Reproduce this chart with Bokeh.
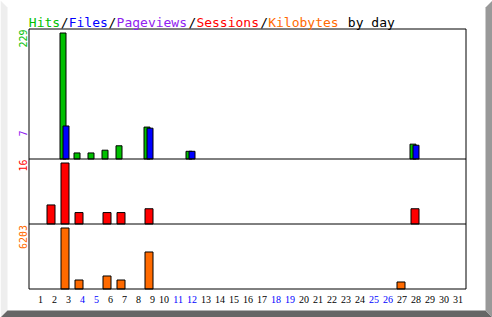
import math
from bokeh.plotting import figure
from bokeh.models import Range1d, Label, LabelSet, ColumnDataSource, PolyAnnotation, BoxAnnotation
from bokeh.embed import file_html
from bokeh.resources import INLINE

# ---------------- data ----------------
days = list(range(1, 32))
hits = [0, 0, 229, 11, 11, 16, 24, 0, 58, 0, 0, 14, 0, 0, 0, 0, 0, 0, 0, 0,
        0, 0, 0, 0, 0, 0, 0, 27, 0, 0, 0]
files = [0, 0, 60, 0, 0, 0, 0, 0, 56, 0, 0, 14, 0, 0, 0, 0, 0, 0, 0, 0,
         0, 0, 0, 0, 0, 0, 0, 25, 0, 0, 0]
sessions = [0, 5, 16, 3, 0, 3, 3, 0, 4, 0, 0, 0, 0, 0, 0, 0, 0, 0, 0, 0,
            0, 0, 0, 0, 0, 0, 0, 4, 0, 0, 0]
kbytes = [0, 0, 6203, 915, 0, 1322, 915, 0, 3763, 0, 0, 0, 0, 0, 0, 0, 0, 0, 0, 0,
          0, 0, 0, 0, 0, 0, 712, 0, 0, 0, 0]
max_pageviews = 7
weekend_days = [4, 5, 11, 12, 18, 19, 25, 26]
title_parts = ["Hits", "/", "Files", "/", "Pageviews", "/", "Sessions", "/", "Kilobytes", " by day"]

# ---------------- style ----------------
GREEN, BLUE, PURPLE, RED, ORANGE = "#00c000", "#0000ff", "#9020f0", "#ff0000", "#ff6a00"
title_colors = [GREEN, "black", BLUE, "black", PURPLE, "black", RED, "black", ORANGE, "black"]
MONO = "DejaVu Sans Mono"

W, H = 492, 317
DAY_PX = 14.0
C0 = 22.5                              # pixel of "day 0" centre
BOX_L, BOX_R, BOX_T, BOX_B = 28.5, 465.5, 28.5, 288.5

def sy(cy):  # canvas y (from top) -> screen y (up from bottom)
    return H - cy

def px_to_day(px):
    return (px - C0) / DAY_PX

p = figure(width=W, height=H, output_backend="svg", toolbar_location=None,
           x_axis_type=None, y_axis_type=None, title=None,
           min_border_left=0, min_border_right=0, min_border_top=0, min_border_bottom=0,
           background_fill_color="white", border_fill_color="white")
p.outline_line_color = None

p.x_range = Range1d(px_to_day(0), px_to_day(W))

# panel geometry: baseline pixel and pixel of the max bar top
kh = max(hits) / 126.0
ks = max(sessions) / 61.0
kk = max(kbytes) / 61.0
p.y_range = Range1d(-(H - 158.5) * kh, 158.5 * kh)
p.extra_y_ranges = {
    "sess": Range1d(-(H - 223.5) * ks, 223.5 * ks),
    "kb": Range1d(-(H - 288.5) * kk, 288.5 * kk),
}

# bevel
p.add_layout(PolyAnnotation(xs=[0, 7, 7, 0], ys=[sy(0), sy(7), sy(310), sy(317)],
                            xs_units="screen", ys_units="screen",
                            fill_color="#eeeeee", fill_alpha=1, line_color=None))
p.add_layout(PolyAnnotation(xs=[0, 7, 485, 492], ys=[sy(317), sy(310), sy(310), sy(317)],
                            xs_units="screen", ys_units="screen",
                            fill_color="#666666", fill_alpha=1, line_color=None))
p.add_layout(PolyAnnotation(xs=[485, 492, 492, 485], ys=[sy(7), sy(0), sy(317), sy(310)],
                            xs_units="screen", ys_units="screen",
                            fill_color="#999999", fill_alpha=1, line_color=None))

def nz(vals, shift):
    xs = [d + shift for d, v in zip(days, vals) if v > 0]
    ts = [v for v in vals if v > 0]
    return xs, ts

bw = 6 / DAY_PX
x, t = nz(hits, -2 / DAY_PX)
p.vbar(x=x, top=t, bottom=0, width=bw, fill_color=GREEN, line_color="black", line_width=1)
x, t = nz(files, 1 / DAY_PX)
p.vbar(x=x, top=t, bottom=0, width=bw, fill_color=BLUE, line_color="black", line_width=1)
x, t = nz(sessions, 0)
p.vbar(x=x, top=t, bottom=0, width=8 / DAY_PX, fill_color=RED, line_color="black",
       line_width=1, y_range_name="sess")
x, t = nz(kbytes, 0)
p.vbar(x=x, top=t, bottom=0, width=8 / DAY_PX, fill_color=ORANGE, line_color="black",
       line_width=1, y_range_name="kb")

# chart box and panel separators
p.add_layout(BoxAnnotation(left=BOX_L, right=BOX_R, bottom=sy(BOX_B), top=sy(BOX_T),
                           left_units="screen", right_units="screen",
                           bottom_units="screen", top_units="screen",
                           fill_color=None, fill_alpha=0, line_color="black", line_width=1,
                           line_alpha=1))
p.segment(x0=[px_to_day(BOX_L)], x1=[px_to_day(BOX_R)], y0=[0], y1=[0],
          line_color="black", line_width=1)
p.segment(x0=[px_to_day(BOX_L)], x1=[px_to_day(BOX_R)], y0=[0], y1=[0],
          line_color="black", line_width=1, y_range_name="sess")

# max value labels (rotated)
for txt, col, top in [(str(max(hits)), GREEN, 29), (str(max_pageviews), PURPLE, 130),
                      (str(max(sessions)), RED, 159), (str(max(kbytes)), ORANGE, 224.5)]:
    p.add_layout(Label(x=22, y=sy(top), x_units="screen", y_units="screen",
                       text=txt, angle=math.pi / 2, text_align="right",
                       text_baseline="middle", text_color=col,
                       text_font=MONO, text_font_size="10px"))

# title in coloured segments
pos = 0
for part, col in zip(title_parts, title_colors):
    p.add_layout(Label(x=28.3 + pos * 7.98, y=sy(22), x_units="screen", y_units="screen",
                       text=part.replace(" ", "\u00a0"), text_align="left",
                       text_baseline="alphabetic",
                       text_color=col, text_font=MONO, text_font_size="13px"))
    pos += len(part)

# day labels
day_src = ColumnDataSource(dict(
    x=days, y=[sy(302)] * len(days), t=[str(d) for d in days],
    c=[BLUE if d in weekend_days else "black" for d in days]))
p.add_layout(LabelSet(x="x", y="y", y_units="screen", text="t", source=day_src,
                      x_offset=6, text_align="right", text_baseline="alphabetic",
                      text_color="c", text_font=MONO, text_font_size="10px"))

open("out.html", "w").write(file_html(p, INLINE))
